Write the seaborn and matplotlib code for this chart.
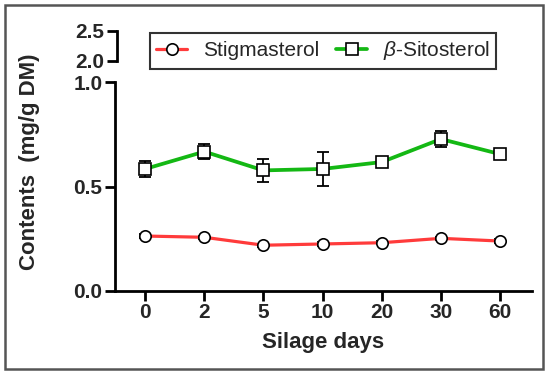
import matplotlib
matplotlib.use("Agg")
import matplotlib.pyplot as plt
import seaborn as sns
import pandas as pd
from matplotlib.patches import Rectangle

# data
days = ["0", "2", "5", "10", "20", "30", "60"]
stigmasterol = [0.263, 0.257, 0.219, 0.225, 0.231, 0.252, 0.239]
stigmasterol_err = [0.008, 0.008, 0.008, 0.008, 0.008, 0.008, 0.008]
sitosterol = [0.584, 0.667, 0.577, 0.584, 0.617, 0.727, 0.655]
sitosterol_err = [0.038, 0.035, 0.056, 0.081, 0.010, 0.038, 0.010]
main_ticks = [0.0, 0.5, 1.0]
top_ticks = [2.0, 2.5]

sns.set_theme(style="ticks")
plt.rcParams["font.family"] = ["Liberation Sans", "DejaVu Sans"]
plt.rcParams["mathtext.fontset"] = "custom"
plt.rcParams["mathtext.it"] = "Liberation Sans:italic"
plt.rcParams["mathtext.rm"] = "Liberation Sans"

df = pd.DataFrame({"day": days, "stig": stigmasterol, "sito": sitosterol})

W, H = 550, 376
fig = plt.figure(figsize=(W / 100, H / 100), dpi=100)

# main axis (0 - 1.0)
ax = fig.add_axes([115 / W, 1 - 291 / H, (532 - 115) / W, (291 - 82) / H])
# top broken segment (2.0 - 2.5)
ax_top = fig.add_axes([117 / W, 1 - 61 / H, 0.02, (61 - 31) / H])

red = "#ff3b3b"
green = "#14b814"

ax.errorbar(days, sitosterol, yerr=sitosterol_err, fmt="none", ecolor="black",
            elinewidth=1.3, capsize=4, capthick=1.3, zorder=2)
ax.errorbar(days, stigmasterol, yerr=stigmasterol_err, fmt="none", ecolor="black",
            elinewidth=1.3, capsize=4, capthick=1.3, zorder=2)

sns.lineplot(data=df, x="day", y="stig", ax=ax, sort=False, color=red, lw=2.3,
             marker="o", markersize=8.2, markerfacecolor="white",
             markeredgecolor="black", markeredgewidth=1.2,
             label="Stigmasterol", legend=False, zorder=3)
sns.lineplot(data=df, x="day", y="sito", ax=ax, sort=False, color=green, lw=2.7,
             marker="s", markersize=8.2, markerfacecolor="white",
             markeredgecolor="black", markeredgewidth=1.2,
             label=r"$\beta$-Sitosterol", legend=False, zorder=3)

ax.set_xlim(-0.51, 6.54)
ax.set_ylim(0, 1.0)
ax.set_yticks(main_ticks)
ax.set_yticklabels([f"{t:.1f}" for t in main_ticks])
ax.set_xlabel("Silage days", fontsize=16, fontweight="bold", labelpad=7)
ax.set_ylabel("")
for s in ["top", "right"]:
    ax.spines[s].set_visible(False)
for s in ["left", "bottom"]:
    ax.spines[s].set_linewidth(2)
    ax.spines[s].set_color("black")
ax.tick_params(axis="both", length=7, width=2, color="black", labelsize=15, pad=2)
for lab in ax.get_xticklabels() + ax.get_yticklabels():
    lab.set_fontweight("bold")
ax.set_facecolor("white")

ax_top.set_ylim(2.0, 2.5)
ax_top.set_yticks(top_ticks)
ax_top.set_yticklabels([f"{t:.1f}" for t in top_ticks])
ax_top.set_xticks([])
for s in ["top", "right", "bottom"]:
    ax_top.spines[s].set_visible(False)
ax_top.spines["left"].set_linewidth(2)
ax_top.spines["left"].set_color("black")
ax_top.tick_params(axis="y", length=7, width=2, color="black", labelsize=15, pad=2)
for lab in ax_top.get_yticklabels():
    lab.set_fontweight("bold")
ax_top.patch.set_alpha(0)

fig.text(30 / W, 1 - 162 / H, "Contents  (mg/g DM)", rotation=90, ha="center",
         va="center", fontsize=16, fontweight="bold")

handles, labels = ax.get_legend_handles_labels()
leg = fig.legend(handles, labels, loc="center", ncol=2,
                 bbox_to_anchor=(323 / W, 1 - 51 / H), fontsize=15,
                 frameon=True, fancybox=False, handlelength=1.5,
                 columnspacing=0.8, handletextpad=0.75, borderpad=0.3)
leg.get_frame().set_edgecolor("black")
leg.get_frame().set_linewidth(1.5)

fig.patches.append(Rectangle((5 / W, 1 - 369 / H), (543 - 5) / W, (369 - 5) / H,
                             transform=fig.transFigure, fill=False,
                             edgecolor="#555555", linewidth=1.8))

fig.savefig("out.png", dpi=100)
